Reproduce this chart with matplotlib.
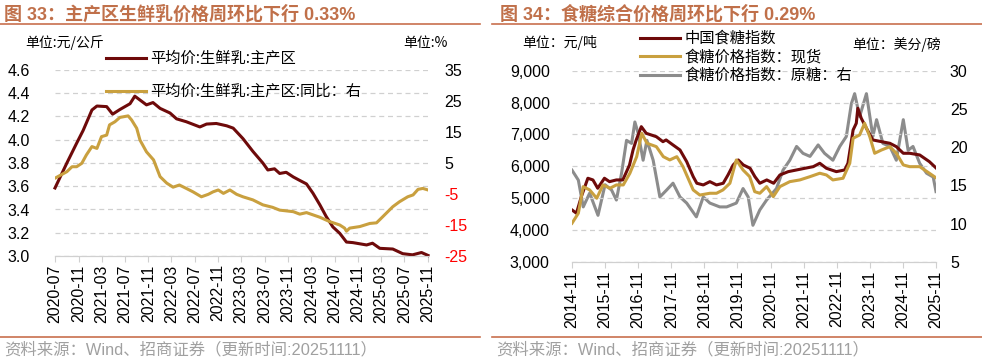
import matplotlib
matplotlib.use("Agg")
import matplotlib.pyplot as plt
import matplotlib.dates as mdates
import pandas as pd

plt.rcParams['font.family'] = ['Liberation Sans', 'Noto Sans CJK SC', 'DejaVu Sans']
CJK = ['Noto Sans CJK SC', 'DejaVu Sans']

# ---- chart 33: raw milk ----
milk_price_dates = ['2020-07-01', '2020-09-01', '2020-10-22', '2020-11-25', '2021-01-10', '2021-02-05',
                    '2021-03-28', '2021-04-28', '2021-06-05', '2021-07-28', '2021-08-22', '2021-10-22',
                    '2021-11-25', '2022-01-01', '2022-02-22', '2022-03-28', '2022-05-18', '2022-07-28',
                    '2022-09-01', '2022-10-22', '2022-12-15', '2023-01-18', '2023-03-10', '2023-05-01',
                    '2023-06-22', '2023-07-18', '2023-08-22', '2023-09-18', '2023-10-22', '2023-11-28',
                    '2024-01-01', '2024-02-05', '2024-03-10', '2024-04-15', '2024-05-18', '2024-06-22',
                    '2024-07-28', '2024-09-01', '2024-10-05', '2024-12-15', '2025-01-15', '2025-02-22',
                    '2025-05-01', '2025-06-22', '2025-08-12', '2025-09-28', '2025-11-01']
milk_price = [3.585, 3.80, 3.97, 4.08, 4.256, 4.29,
              4.285, 4.22, 4.26, 4.31, 4.375, 4.30,
              4.32, 4.27, 4.23, 4.18, 4.155, 4.11,
              4.135, 4.14, 4.12, 4.10, 4.01, 3.90,
              3.80, 3.74, 3.75, 3.71, 3.72, 3.68,
              3.65, 3.62, 3.54, 3.44, 3.34, 3.25,
              3.195, 3.12, 3.115, 3.095, 3.11, 3.066,
              3.06, 3.02, 3.01, 3.03, 3.005]

milk_yoy_dates = ['2020-07-01', '2020-09-01', '2020-09-28', '2020-10-22', '2020-11-18', '2020-12-12',
                  '2021-01-10', '2021-02-05', '2021-03-01', '2021-03-28', '2021-04-12', '2021-05-10',
                  '2021-06-05', '2021-07-18', '2021-08-05', '2021-09-01', '2021-09-18', '2021-10-22',
                  '2021-11-28', '2022-01-01', '2022-02-05', '2022-03-10', '2022-04-12', '2022-05-18',
                  '2022-06-22', '2022-08-05', '2022-09-10', '2022-10-05', '2022-11-01', '2022-11-28',
                  '2023-01-01', '2023-02-05', '2023-03-10', '2023-05-01', '2023-06-22', '2023-08-12',
                  '2023-09-18', '2023-11-28', '2024-01-01', '2024-02-05', '2024-04-15', '2024-06-05',
                  '2024-07-28', '2024-08-22', '2024-09-01', '2024-09-18', '2024-11-10', '2025-01-01',
                  '2025-02-05', '2025-03-10', '2025-05-01', '2025-06-05', '2025-07-18', '2025-08-15',
                  '2025-09-10', '2025-10-05', '2025-11-01']
milk_yoy = [0.1, 2.2, 3.8, 3.8, 4.9, 7.6,
            10.3, 9.7, 13.5, 14.0, 17.3, 18.3,
            19.7, 20.2, 18.9, 16.2, 12.4, 8.6,
            6.0, 0.6, -1.5, -2.8, -2.1, -3.2,
            -4.3, -5.9, -5.1, -4.3, -3.7, -4.8,
            -3.7, -5.1, -5.9, -6.9, -8.5, -9.3,
            -10.2, -10.7, -11.5, -11.0, -12.5, -13.9,
            -15.0, -16.0, -17.0, -16.0, -15.5, -14.5,
            -14.3, -12.3, -9.1, -7.5, -5.9, -5.3,
            -3.5, -3.2, -3.7]

# ---- chart 34: sugar ----
cn_sugar_dates = ['2014-11-01', '2014-12-20', '2015-02-12', '2015-04-25', '2015-06-20', '2015-08-12',
                  '2015-10-25', '2015-12-20', '2016-03-05', '2016-05-15', '2016-07-28', '2016-09-05',
                  '2016-10-10', '2016-12-05', '2017-01-28', '2017-05-20', '2017-08-01', '2017-09-05',
                  '2017-11-20', '2018-02-05', '2018-04-20', '2018-07-01', '2018-08-10', '2018-10-20',
                  '2019-01-01', '2019-03-15', '2019-05-28', '2019-07-20', '2019-09-15', '2019-11-10',
                  '2020-01-05', '2020-03-20', '2020-05-12', '2020-07-05', '2020-09-20', '2020-12-05',
                  '2021-02-12', '2021-05-15', '2021-08-15', '2021-11-15', '2022-02-15', '2022-04-28',
                  '2022-07-10', '2022-10-28', '2023-01-28', '2023-03-05', '2023-05-01', '2023-06-05',
                  '2023-06-22', '2023-07-30', '2023-09-25', '2023-12-05', '2024-03-10', '2024-06-10',
                  '2024-08-20', '2024-11-05', '2025-01-15', '2025-05-05', '2025-08-20', '2025-11-05']
cn_sugar = [4633, 4530, 5050, 5627, 5574, 5313,
            5627, 5520, 5574, 5574, 6044, 6514,
            6828, 7245, 7037, 6930, 6774, 6828,
            6671, 6514, 6147, 5677, 5470, 5417,
            5520, 5417, 5470, 5730, 6044, 6201,
            6044, 5940, 5677, 5470, 5574, 5470,
            5730, 5834, 5887, 5940, 5990, 6097,
            5940, 5834, 5887, 6097, 7141, 7351,
            7821, 7508, 7194, 6828, 6774, 6723,
            6618, 6410, 6410, 6357, 6147, 5940]

spot_dates = ['2014-11-01', '2015-01-10', '2015-03-05', '2015-05-15', '2015-08-01', '2015-10-10',
              '2015-12-25', '2016-03-05', '2016-05-20', '2016-08-01', '2016-10-15', '2016-12-10',
              '2017-02-05', '2017-05-20', '2017-08-05', '2017-10-15', '2018-01-01', '2018-03-10',
              '2018-07-01', '2018-09-12', '2019-01-01', '2019-03-15', '2019-05-25', '2019-08-10',
              '2019-10-20', '2020-01-02', '2020-03-15', '2020-05-10', '2020-07-05', '2020-09-18',
              '2020-12-01', '2021-02-12', '2021-06-01', '2021-09-20', '2022-01-10', '2022-04-28',
              '2022-07-10', '2022-09-20', '2023-01-10', '2023-03-25', '2023-05-01', '2023-07-12',
              '2023-09-05', '2023-11-01', '2023-12-25', '2024-03-10', '2024-06-10', '2024-08-20',
              '2024-11-05', '2025-01-15', '2025-05-05', '2025-08-20', '2025-11-08']
spot_sugar = [4216, 4530, 5364, 5260, 5000, 5417,
              5313, 5417, 5417, 5784, 6304, 7037,
              6724, 6618, 6304, 6201, 6304, 5990,
              5260, 5100, 5156, 5156, 5260, 5470,
              6201, 5887, 5677, 5206, 5156, 5364,
              5050, 5364, 5520, 5574, 5677, 5784,
              5730, 5574, 5627, 6097, 6881, 6985,
              7351, 6930, 6410, 6514, 6618, 6410,
              6044, 5990, 5990, 5784, 5627]

raw_dates = ['2014-11-01', '2015-01-10', '2015-03-05', '2015-05-15', '2015-08-15', '2015-11-01',
             '2016-01-12', '2016-03-05', '2016-05-01', '2016-06-25', '2016-08-20', '2016-09-25',
             '2016-11-01', '2016-12-25', '2017-02-05', '2017-04-15', '2017-06-28', '2017-09-10',
             '2017-11-20', '2018-02-05', '2018-04-20', '2018-08-05', '2018-10-20', '2019-01-01',
             '2019-04-20', '2019-07-05', '2019-10-20', '2020-01-02', '2020-02-28', '2020-04-20',
             '2020-07-05', '2020-09-18', '2021-01-05', '2021-03-18', '2021-06-01', '2021-08-15',
             '2021-10-25', '2022-01-10', '2022-04-10', '2022-06-20', '2022-09-20', '2022-12-05',
             '2023-02-15', '2023-04-12', '2023-05-18', '2023-07-12', '2023-09-25', '2023-12-05',
             '2024-01-15', '2024-03-25', '2024-06-10', '2024-08-20', '2024-11-05', '2024-12-28',
             '2025-02-20', '2025-05-05', '2025-07-20', '2025-10-01', '2025-11-01']
raw_sugar = [17.0, 15.7, 12.2, 14.0, 11.1, 15.1,
             14.4, 13.1, 16.6, 20.9, 20.5, 23.3,
             21.8, 18.3, 20.9, 18.3, 13.5, 14.4,
             15.3, 13.5, 12.7, 10.9, 13.5, 12.7,
             12.2, 12.2, 12.7, 14.6, 13.5, 9.8,
             11.8, 13.1, 14.6, 17.0, 18.3, 20.1,
             19.2, 18.8, 20.3, 19.2, 18.3, 20.1,
             21.4, 25.7, 27.0, 24.0, 27.0, 21.4,
             23.6, 20.5, 20.1, 18.3, 23.6, 19.6,
             20.1, 17.9, 16.6, 16.1, 14.2]

milk_ticks = pd.date_range('2020-07-01', '2025-11-01', freq='4MS')
sugar_ticks = pd.date_range('2014-11-01', '2025-11-01', freq='12MS')

DARK_RED = '#6E0A0A'
GOLD = '#C9A03F'
GRAY = '#8C8C8C'
TITLE_C = '#C0704A'
LINE_C = '#C8704E'

fig = plt.figure(figsize=(9.82, 3.58), dpi=100)


def style(ax, axr, xticks, ylim, yticks, ylim_r, yticks_r):
    ax.set_ylim(*ylim)
    ax.set_yticks(yticks)
    axr.set_ylim(*ylim_r)
    axr.set_yticks(yticks_r)
    ax.set_xlim(xticks[0], xticks[-1])
    ax.set_xticks(xticks)
    ax.xaxis.set_major_formatter(mdates.DateFormatter('%Y-%m'))
    for a in (ax, axr):
        for s in ('top', 'left', 'right'):
            a.spines[s].set_visible(False)
        a.spines['bottom'].set_color('#D0D0D0')
        a.tick_params(axis='y', length=0, labelsize=11.5)
    ax.tick_params(axis='x', rotation=90, labelsize=11.5, length=4, color='#D0D0D0', pad=2)
    ax.grid(axis='y', color='#D0D0D0', linestyle=(0, (4, 3)), lw=0.9)
    ax.set_axisbelow(True)


# ---------- left chart ----------
ax1 = fig.add_axes([55 / 982, 1 - 256 / 358, 373 / 982, 186 / 358])
ax1r = ax1.twinx()
l1, = ax1.plot(pd.to_datetime(milk_price_dates), milk_price, color=DARK_RED, lw=2.2, clip_on=False, zorder=3)
l2, = ax1r.plot(pd.to_datetime(milk_yoy_dates), milk_yoy, color=GOLD, lw=2.2, zorder=2)
style(ax1, ax1r, milk_ticks, (3.0, 4.6), [3.0, 3.2, 3.4, 3.6, 3.8, 4.0, 4.2, 4.4, 4.6],
      (-25, 35), [-25, -15, -5, 5, 15, 25, 35])
ax1.yaxis.set_major_formatter(matplotlib.ticker.FormatStrFormatter('%.1f'))
ax1.tick_params(axis='y', pad=18)
ax1r.tick_params(axis='y', pad=12)
ax1r.yaxis.set_major_formatter(matplotlib.ticker.FuncFormatter(lambda v, p: f'{v:.0f}'))
fig.canvas.draw()
for lab in ax1r.get_yticklabels():
    if lab.get_text().startswith('-'):
        lab.set_color('red')
ax1.legend([l1, l2], ['平均价:生鲜乳:主产区', '平均价:生鲜乳:主产区:同比：右'],
           loc='upper left', bbox_to_anchor=(0.12, 1.14), frameon=False,
           prop={'family': CJK, 'size': 11}, handlelength=2.6, handletextpad=0.3,
           labelspacing=1.05, borderaxespad=0)

fig.text(4 / 982, 1 - 14 / 358, '图 33：主产区生鲜乳价格周环比下行 0.33%', color=TITLE_C,
         fontsize=13, fontweight='bold', family=['Liberation Sans', 'Noto Sans CJK SC'], va='center')
fig.text(25 / 982, 1 - 43 / 358, '单位:元/公斤', fontsize=10, family=CJK, va='center')
fig.text(403 / 982, 1 - 43 / 358, '单位:%', fontsize=10, family=CJK, va='center')

# ---------- right chart ----------
ax2 = fig.add_axes([572 / 982, 1 - 262 / 358, 364 / 982, 191.3 / 358])
ax2r = ax2.twinx()
r3, = ax2r.plot(pd.to_datetime(raw_dates), raw_sugar, color=GRAY, lw=2.2, zorder=1)
ax2.set_zorder(ax2r.get_zorder() + 1)
ax2.patch.set_visible(False)
r1, = ax2.plot(pd.to_datetime(cn_sugar_dates), cn_sugar, color=DARK_RED, lw=2.2)
r2, = ax2.plot(pd.to_datetime(spot_dates), spot_sugar, color=GOLD, lw=2.2)
style(ax2, ax2r, sugar_ticks, (3000, 9000), [3000, 4000, 5000, 6000, 7000, 8000, 9000],
      (5, 30), [5, 10, 15, 20, 25, 30])
ax2.yaxis.set_major_formatter(matplotlib.ticker.FuncFormatter(lambda v, p: f'{v:,.0f}'))
ax2.tick_params(axis='y', pad=16)
ax2r.tick_params(axis='y', pad=10)
ax2.grid(axis='y', color='#D0D0D0', linestyle=(0, (4, 3)), lw=0.9)
ax2.legend([r1, r2, r3], ['中国食糖指数', '食糖价格指数：现货', '食糖价格指数：原糖：右'],
           loc='upper left', bbox_to_anchor=(0.17, 1.245), frameon=False,
           prop={'family': CJK, 'size': 11}, handlelength=2.6, handletextpad=0.3,
           labelspacing=0.1, borderaxespad=0)

fig.text(500 / 982, 1 - 14 / 358, '图 34：食糖综合价格周环比下行 0.29%', color=TITLE_C,
         fontsize=13, fontweight='bold', family=['Liberation Sans', 'Noto Sans CJK SC'], va='center')
fig.text(522 / 982, 1 - 43 / 358, '单位：元/吨', fontsize=10, family=CJK, va='center')
fig.text(852 / 982, 1 - 45 / 358, '单位：美分/磅', fontsize=10, family=CJK, va='center')

# separators and source notes
for x0, x1 in ((0, 480), (492, 982)):
    fig.add_artist(plt.Line2D([x0 / 982, x1 / 982], [1 - 24 / 358] * 2, color=LINE_C, lw=1.2))
    fig.add_artist(plt.Line2D([x0 / 982, x1 / 982], [1 - 337 / 358] * 2, color=LINE_C, lw=1.2))
    fig.text((x0 + 4) / 982, 1 - 350 / 358, '资料来源：Wind、招商证券（更新时间:20251111）',
             color='#A0A0A0', fontsize=11.8, family=['Liberation Sans', 'Noto Sans CJK SC'], va='center')

fig.savefig('out.png', dpi=100)
